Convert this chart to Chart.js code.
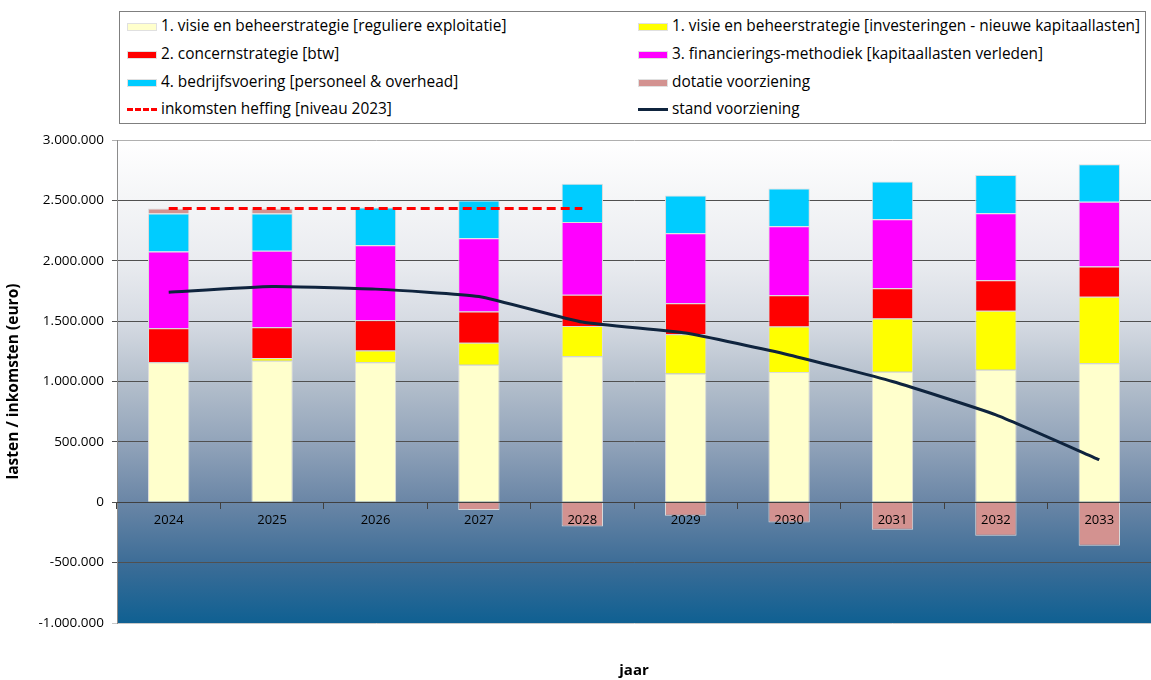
<!DOCTYPE html>
<html>
<head>
<meta charset="utf-8">
<script src="https://cdn.jsdelivr.net/npm/chart.js@4.4.1/dist/chart.umd.min.js"></script>
<style>
  html, body { margin: 0; padding: 0; background: #ffffff; }
  #wrap { position: relative; width: 1151px; height: 680px; }
  #c { position: absolute; left: 0; top: 0; }
  #legend { position: absolute; left: 119px; top: 11px; width: 1027px; height: 113px;
            border: 1px solid #7f7f7f; background: #fff; font-family: "Open Sans", Lato, sans-serif;
            font-size: 15.4px; color: #000; box-sizing: border-box; }
  .li { position: absolute; height: 20px; line-height: 20px; white-space: nowrap; }
  .sw { position: absolute; left: 0; top: 6px; width: 30px; height: 8px; box-sizing: border-box; }
  .ln { position: absolute; left: 0; top: 8px; width: 30px; height: 0; }
  .tx { position: absolute; left: 34px; top: 0; }
</style>
</head>
<body>
<div id="wrap">
  <canvas id="c" width="1151" height="680"></canvas>
  <div id="legend"></div>
</div>
<script>
// ---- data ----
const years = ['2024','2025','2026','2027','2028','2029','2030','2031','2032','2033'];
const regulier   = [1160000, 1171000, 1160000, 1138000, 1210000, 1066000, 1078000, 1080000, 1097000, 1152000];
const investering= [0, 23000, 97000, 182000, 249000, 326000, 377000, 442000, 488000, 549000];
const btw        = [282000, 256000, 251000, 259000, 259000, 257000, 260000, 251000, 254000, 251000];
const kapitaal   = [634000, 632000, 621000, 608000, 602000, 579000, 571000, 571000, 555000, 536000];
const bedrijf    = [315000, 309000, 311000, 311000, 317000, 312000, 312000, 312000, 317000, 312000];
const dotatie    = [41000, 41000, -5000, -65000, -200000, -112000, -167000, -228000, -277000, -360000];
const inkomsten  = [2432000, 2432000, 2432000, 2432000, 2432000, null, null, null, null, null];
const stand      = [1740000, 1787000, 1765000, 1704000, 1492000, 1401000, 1220000, 1000000, 724000, 352000];
const yTicksMin = -1000000, yTicksMax = 3000000, yStep = 500000;

const labelsText = [
  '1. visie en beheerstrategie [reguliere exploitatie]',
  '1. visie en beheerstrategie [investeringen - nieuwe kapitaallasten]',
  '2. concernstrategie [btw]',
  '3. financierings-methodiek [kapitaallasten verleden]',
  '4. bedrijfsvoering [personeel & overhead]',
  'dotatie voorziening',
  'inkomsten heffing [niveau 2023]',
  'stand voorziening'
];
const colors = ['#ffffcc', '#ffff00', '#ff0000', '#ff00ff', '#00ccff', '#d39290', '#ff0000', '#0f243e'];

function fmt(v) {
  const neg = v < 0; let s = String(Math.abs(Math.round(v)));
  s = s.replace(/\B(?=(\d{3})+(?!\d))/g, '.');
  return (neg ? '-' : '') + s;
}

const bgPlugin = {
  id: 'bg',
  beforeDraw(chart) {
    const a = chart.chartArea, ctx = chart.ctx;
    const g = ctx.createLinearGradient(0, a.top, 0, a.bottom);
    g.addColorStop(0.00, '#ffffff');
    g.addColorStop(0.125, '#f4f5f7');
    g.addColorStop(0.25, '#eaecf0');
    g.addColorStop(0.375, '#d6dbe3');
    g.addColorStop(0.50, '#b4bfcc');
    g.addColorStop(0.625, '#92a4ba');
    g.addColorStop(0.75, '#6a86a6');
    g.addColorStop(0.875, '#3d6d97');
    g.addColorStop(1.00, '#0f6092');
    ctx.save();
    ctx.fillStyle = g;
    ctx.fillRect(a.left, a.top, a.right - a.left, a.bottom - a.top);
    ctx.restore();
  }
};

function barDs(i, data) {
  return { type: 'bar', label: labelsText[i], data: data, backgroundColor: colors[i],
           borderColor: '#dcdcdc', borderWidth: 1, order: 2,
           barPercentage: 0.4, categoryPercentage: 1.0 };
}

const FONT = '"Open Sans", Lato, sans-serif';
const chart = new Chart(document.getElementById('c'), {
  data: {
    labels: years,
    datasets: [
      barDs(0, regulier), barDs(1, investering), barDs(2, btw), barDs(3, kapitaal), barDs(4, bedrijf), barDs(5, dotatie),
      { type: 'line', label: labelsText[6], data: inkomsten, borderColor: colors[6], borderWidth: 3,
        borderDash: [9, 5], pointRadius: 0, stack: 'l1', order: 0, spanGaps: false },
      { type: 'line', label: labelsText[7], data: stand, borderColor: colors[7], borderWidth: 3,
        pointRadius: 0, stack: 'l2', order: 0, tension: 0.15 }
    ]
  },
  options: {
    responsive: false, animation: false,
    layout: { padding: { top: 140, left: 0, right: 0, bottom: 0 } },
    plugins: { legend: { display: false }, tooltip: { enabled: false } },
    scales: {
      x: {
        stacked: true, position: { y: 0 },
        grid: { display: true, drawOnChartArea: false, drawTicks: true, tickLength: 6, offset: true, color: '#404040', z: 1 },
        border: { display: true, color: '#404040', z: 1 },
        ticks: { color: '#000', font: { family: FONT, size: 13 }, padding: 4, z: 2 }
      },
      x2: {
        type: 'category', labels: years, position: 'bottom',
        grid: { display: false }, border: { display: false },
        ticks: { display: false },
        title: { display: true, text: 'jaar', color: '#000', font: { family: FONT, size: 15, weight: 'bold' }, padding: { top: 0, bottom: 0 } },
        afterFit(s) { s.height = 57; }
      },
      y: {
        stacked: true, min: yTicksMin, max: yTicksMax,
        ticks: { stepSize: yStep, color: '#000', font: { family: FONT, size: 13.5 }, padding: 8,
                 callback: (v) => fmt(v) },
        grid: { color: (c) => c.tick && c.tick.value === yTicksMax ? '#b0b0b0' : (c.tick && c.tick.value === yTicksMin ? '#c8c8c8' : '#505050'),
                tickLength: 5, lineWidth: 1 },
        border: { display: true, color: '#8c8c8c' },
        title: { display: true, text: 'lasten / inkomsten (euro)', color: '#000', font: { family: FONT, size: 15.5, weight: 'bold' }, padding: { top: 4, bottom: 0 } },
        afterFit(s) { s.width = 117; }
      }
    }
  },
  plugins: [bgPlugin]
});

// HTML legend (two columns, four rows)
const leg = document.getElementById('legend');
const rowsY = [4, 32, 60, 87];
const colX = [7, 518];
labelsText.forEach((t, i) => {
  const d = document.createElement('div');
  d.className = 'li';
  d.style.left = colX[i % 2] + 'px';
  d.style.top = rowsY[Math.floor(i / 2)] + 'px';
  let mark;
  if (i === 6) {
    mark = '<div class="ln" style="border-top:3px dashed ' + colors[i] + ';top:9px"></div>';
  } else if (i === 7) {
    mark = '<div class="ln" style="border-top:3px solid ' + colors[i] + ';top:9px"></div>';
  } else {
    mark = '<div class="sw" style="background:' + colors[i] + ';border:1px solid #e0e0e0;top:7px"></div>';
  }
  d.innerHTML = mark + '<span class="tx">' + t + '</span>';
  leg.appendChild(d);
});
</script>
</body>
</html>
